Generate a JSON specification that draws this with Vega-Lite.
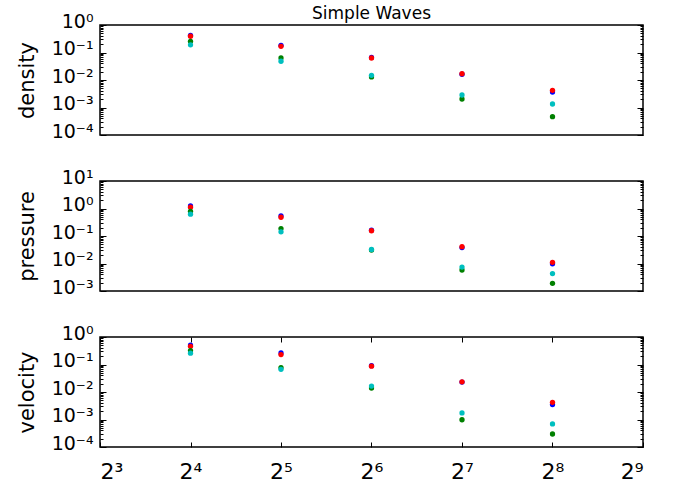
{
  "$schema": "https://vega.github.io/schema/vega-lite/v6.json",
  "padding": {"left": 15, "top": 4, "right": 4, "bottom": 0},
  "config": {
    "font": "DejaVu Sans",
    "view": {"stroke": "#000", "strokeWidth": 1.5},
    "axis": {
      "labelFont": "DejaVu Sans", "labelFontSize": 19, "labelColor": "#000",
      "titleFont": "DejaVu Sans", "titleFontSize": 21, "titleFontWeight": "normal", "titleColor": "#000",
      "grid": false, "domain": false, "tickColor": "#000", "tickWidth": 1
    },
    "title": {"font": "DejaVu Sans", "fontSize": 17, "fontWeight": "normal", "color": "#000"}
  },
  "datasets": {
    "runs": [
      {"n": 16, "series": "run B", "density": 0.42, "pressure": 1.24, "velocity": 0.51},
      {"n": 16, "series": "run A", "density": 0.39, "pressure": 1.11, "velocity": 0.46},
      {"n": 16, "series": "run C", "density": 0.255, "pressure": 0.79, "velocity": 0.32},
      {"n": 16, "series": "run D", "density": 0.19, "pressure": 0.62, "velocity": 0.257},
      {"n": 32, "series": "run B", "density": 0.183, "pressure": 0.54, "velocity": 0.263},
      {"n": 32, "series": "run A", "density": 0.168, "pressure": 0.48, "velocity": 0.229},
      {"n": 32, "series": "run C", "density": 0.063, "pressure": 0.187, "velocity": 0.077},
      {"n": 32, "series": "run D", "density": 0.048, "pressure": 0.142, "velocity": 0.067},
      {"n": 64, "series": "run B", "density": 0.066, "pressure": 0.163, "velocity": 0.091},
      {"n": 64, "series": "run A", "density": 0.063, "pressure": 0.155, "velocity": 0.087},
      {"n": 64, "series": "run C", "density": 0.0129, "pressure": 0.031, "velocity": 0.014},
      {"n": 64, "series": "run D", "density": 0.0148, "pressure": 0.0323, "velocity": 0.0164},
      {"n": 128, "series": "run B", "density": 0.0162, "pressure": 0.038, "velocity": 0.0229},
      {"n": 128, "series": "run A", "density": 0.0169, "pressure": 0.041, "velocity": 0.0234},
      {"n": 128, "series": "run C", "density": 0.00204, "pressure": 0.0058, "velocity": 0.00098},
      {"n": 128, "series": "run D", "density": 0.00285, "pressure": 0.0074, "velocity": 0.00173},
      {"n": 256, "series": "run B", "density": 0.00366, "pressure": 0.0098, "velocity": 0.0035},
      {"n": 256, "series": "run A", "density": 0.00422, "pressure": 0.011, "velocity": 0.0042},
      {"n": 256, "series": "run C", "density": 0.000462, "pressure": 0.0019, "velocity": 0.000297},
      {"n": 256, "series": "run D", "density": 0.00134, "pressure": 0.0043, "velocity": 0.00069}
    ]
  },
  "data": {"name": "runs"},
  "bounds": "flush",
  "spacing": 46,
  "vconcat": [
    {
      "title": {"text": "Simple Waves", "anchor": "middle", "offset": -11},
      "width": 543, "height": 110,
      "layer": [
        {
          "mark": {"type": "point", "filled": true, "size": 28, "opacity": 1},
          "encoding": {
            "x": {"field": "n", "type": "quantitative", "scale": {"type": "log", "base": 2, "domain": [8, 512], "nice": false}, "axis": null},
            "y": {"field": "density", "type": "quantitative", "scale": {"type": "log", "domain": [0.0001, 1], "nice": false},
              "axis": {"title": "density", "titlePadding": 14, "labelPadding": 13, "labelBaseline": "alphabetic", "labelOffset": 2,
                "values": [0.0001, 0.0002, 0.0003, 0.0004, 0.0005, 0.0006, 0.0007, 0.0008, 0.0009, 0.001, 0.002, 0.003, 0.004, 0.005, 0.006, 0.007, 0.008, 0.009, 0.01, 0.02, 0.03, 0.04, 0.05, 0.06, 0.07, 0.08, 0.09, 0.1, 0.2, 0.3, 0.4, 0.5, 0.6, 0.7, 0.8, 0.9, 1],
                "labelExpr": "abs(log(datum.value)/LN10 - round(log(datum.value)/LN10)) < 0.001 ? '10' + (round(log(datum.value)/LN10) < 0 ? '⁻' : '') + ['⁰','¹','²','³','⁴','⁵','⁶','⁷','⁸','⁹'][abs(round(log(datum.value)/LN10))] : ''",
                "tickSize": {"condition": {"test": "abs(log(datum.value)/LN10 - round(log(datum.value)/LN10)) < 0.001", "value": -6}, "value": -3}}},
            "color": {"field": "series", "type": "nominal", "scale": {"domain": ["run A", "run B", "run C", "run D"], "range": ["#ff0000", "#0000ff", "#008000", "#00bfbf"]}, "legend": null}
          }
        },
        {
          "mark": {"type": "point", "opacity": 0},
          "encoding": {
            "x": {"field": "n", "type": "quantitative", "scale": {"type": "log", "base": 2, "domain": [8, 512], "nice": false}, "axis": null},
            "y": {"field": "density", "type": "quantitative", "scale": {"type": "log", "domain": [0.0001, 1], "nice": false},
              "axis": {"orient": "right", "title": null, "labels": false,
                "values": [0.0001, 0.0002, 0.0003, 0.0004, 0.0005, 0.0006, 0.0007, 0.0008, 0.0009, 0.001, 0.002, 0.003, 0.004, 0.005, 0.006, 0.007, 0.008, 0.009, 0.01, 0.02, 0.03, 0.04, 0.05, 0.06, 0.07, 0.08, 0.09, 0.1, 0.2, 0.3, 0.4, 0.5, 0.6, 0.7, 0.8, 0.9, 1],
                "tickSize": {"condition": {"test": "abs(log(datum.value)/LN10 - round(log(datum.value)/LN10)) < 0.001", "value": -6}, "value": -3}}}
          }
        }
      ],
      "resolve": {"axis": {"y": "independent"}}
    },
    {
      "width": 543, "height": 110,
      "layer": [
        {
          "mark": {"type": "point", "filled": true, "size": 28, "opacity": 1},
          "encoding": {
            "x": {"field": "n", "type": "quantitative", "scale": {"type": "log", "base": 2, "domain": [8, 512], "nice": false}, "axis": null},
            "y": {"field": "pressure", "type": "quantitative", "scale": {"type": "log", "domain": [0.001, 10], "nice": false},
              "axis": {"title": "pressure", "titlePadding": 14, "labelPadding": 13, "labelBaseline": "alphabetic", "labelOffset": 2,
                "values": [0.001, 0.002, 0.003, 0.004, 0.005, 0.006, 0.007, 0.008, 0.009, 0.01, 0.02, 0.03, 0.04, 0.05, 0.06, 0.07, 0.08, 0.09, 0.1, 0.2, 0.3, 0.4, 0.5, 0.6, 0.7, 0.8, 0.9, 1, 2, 3, 4, 5, 6, 7, 8, 9, 10],
                "labelExpr": "abs(log(datum.value)/LN10 - round(log(datum.value)/LN10)) < 0.001 ? '10' + (round(log(datum.value)/LN10) < 0 ? '⁻' : '') + ['⁰','¹','²','³','⁴','⁵','⁶','⁷','⁸','⁹'][abs(round(log(datum.value)/LN10))] : ''",
                "tickSize": {"condition": {"test": "abs(log(datum.value)/LN10 - round(log(datum.value)/LN10)) < 0.001", "value": -6}, "value": -3}}},
            "color": {"field": "series", "type": "nominal", "scale": {"domain": ["run A", "run B", "run C", "run D"], "range": ["#ff0000", "#0000ff", "#008000", "#00bfbf"]}, "legend": null}
          }
        },
        {
          "mark": {"type": "point", "opacity": 0},
          "encoding": {
            "x": {"field": "n", "type": "quantitative", "scale": {"type": "log", "base": 2, "domain": [8, 512], "nice": false}, "axis": null},
            "y": {"field": "pressure", "type": "quantitative", "scale": {"type": "log", "domain": [0.001, 10], "nice": false},
              "axis": {"orient": "right", "title": null, "labels": false,
                "values": [0.001, 0.002, 0.003, 0.004, 0.005, 0.006, 0.007, 0.008, 0.009, 0.01, 0.02, 0.03, 0.04, 0.05, 0.06, 0.07, 0.08, 0.09, 0.1, 0.2, 0.3, 0.4, 0.5, 0.6, 0.7, 0.8, 0.9, 1, 2, 3, 4, 5, 6, 7, 8, 9, 10],
                "tickSize": {"condition": {"test": "abs(log(datum.value)/LN10 - round(log(datum.value)/LN10)) < 0.001", "value": -6}, "value": -3}}}
          }
        }
      ],
      "resolve": {"axis": {"y": "independent"}}
    },
    {
      "width": 543, "height": 110,
      "layer": [
        {
          "mark": {"type": "point", "filled": true, "size": 28, "opacity": 1},
          "encoding": {
            "x": {"field": "n", "type": "quantitative", "scale": {"type": "log", "base": 2, "domain": [8, 512], "nice": false},
              "axis": {"orient": "bottom", "title": null, "values": [8, 16, 32, 64, 128, 256, 512], "tickSize": -5, "labelPadding": 19, "labelFontSize": 22, "labelBaseline": "top",
                "labelExpr": "'2' + ['⁰','¹','²','³','⁴','⁵','⁶','⁷','⁸','⁹'][round(log(datum.value)/LN2)]"}},
            "y": {"field": "velocity", "type": "quantitative", "scale": {"type": "log", "domain": [0.0001, 1], "nice": false},
              "axis": {"title": "velocity", "titlePadding": 14, "labelPadding": 13, "labelBaseline": "alphabetic", "labelOffset": 2,
                "values": [0.0001, 0.0002, 0.0003, 0.0004, 0.0005, 0.0006, 0.0007, 0.0008, 0.0009, 0.001, 0.002, 0.003, 0.004, 0.005, 0.006, 0.007, 0.008, 0.009, 0.01, 0.02, 0.03, 0.04, 0.05, 0.06, 0.07, 0.08, 0.09, 0.1, 0.2, 0.3, 0.4, 0.5, 0.6, 0.7, 0.8, 0.9, 1],
                "labelExpr": "abs(log(datum.value)/LN10 - round(log(datum.value)/LN10)) < 0.001 ? '10' + (round(log(datum.value)/LN10) < 0 ? '⁻' : '') + ['⁰','¹','²','³','⁴','⁵','⁶','⁷','⁸','⁹'][abs(round(log(datum.value)/LN10))] : ''",
                "tickSize": {"condition": {"test": "abs(log(datum.value)/LN10 - round(log(datum.value)/LN10)) < 0.001", "value": -6}, "value": -3}}},
            "color": {"field": "series", "type": "nominal", "scale": {"domain": ["run A", "run B", "run C", "run D"], "range": ["#ff0000", "#0000ff", "#008000", "#00bfbf"]}, "legend": null}
          }
        },
        {
          "mark": {"type": "point", "opacity": 0},
          "encoding": {
            "x": {"field": "n", "type": "quantitative", "scale": {"type": "log", "base": 2, "domain": [8, 512], "nice": false},
              "axis": {"orient": "top", "title": null, "labels": false, "values": [8, 16, 32, 64, 128, 256, 512], "tickSize": -5}},
            "y": {"field": "velocity", "type": "quantitative", "scale": {"type": "log", "domain": [0.0001, 1], "nice": false},
              "axis": {"orient": "right", "title": null, "labels": false,
                "values": [0.0001, 0.0002, 0.0003, 0.0004, 0.0005, 0.0006, 0.0007, 0.0008, 0.0009, 0.001, 0.002, 0.003, 0.004, 0.005, 0.006, 0.007, 0.008, 0.009, 0.01, 0.02, 0.03, 0.04, 0.05, 0.06, 0.07, 0.08, 0.09, 0.1, 0.2, 0.3, 0.4, 0.5, 0.6, 0.7, 0.8, 0.9, 1],
                "tickSize": {"condition": {"test": "abs(log(datum.value)/LN10 - round(log(datum.value)/LN10)) < 0.001", "value": -6}, "value": -3}}}
          }
        }
      ],
      "resolve": {"axis": {"x": "independent", "y": "independent"}}
    }
  ]
}
